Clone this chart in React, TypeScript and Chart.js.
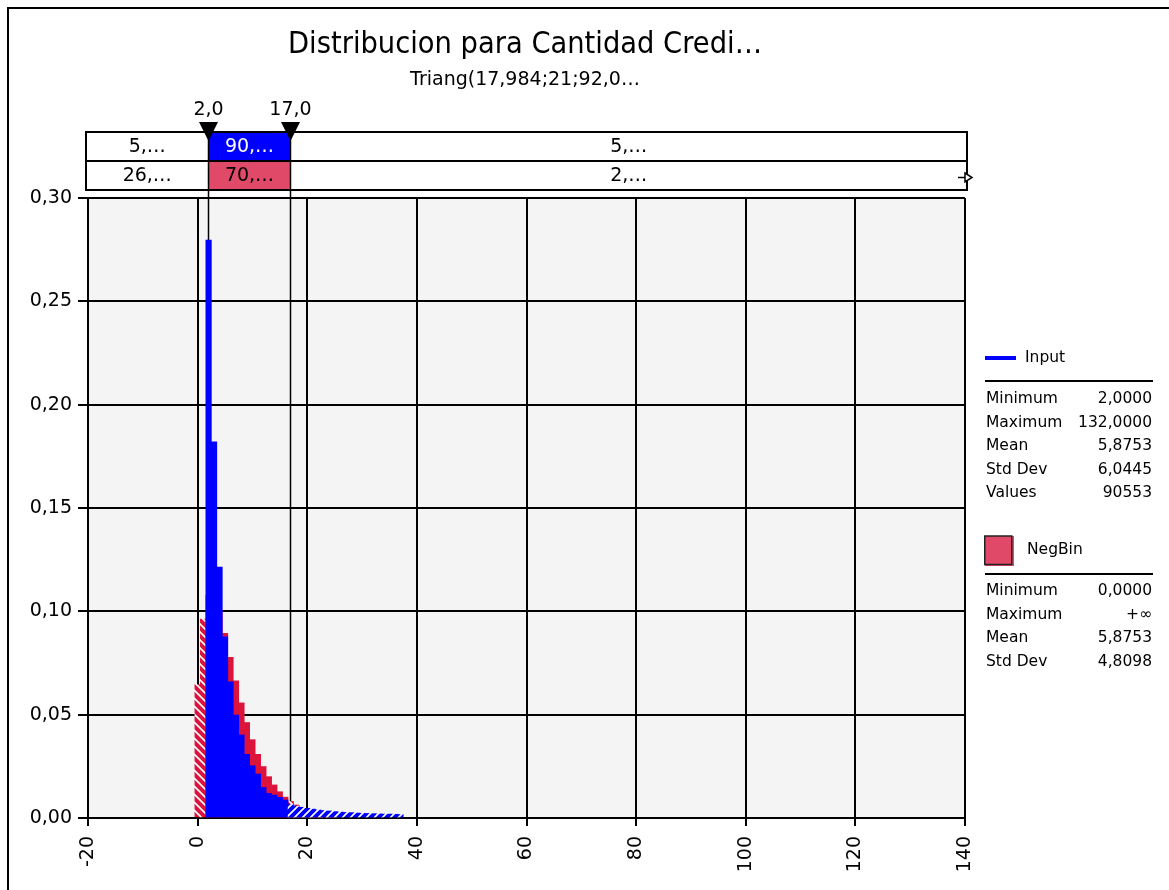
import React, { useEffect, useRef } from "react";
import { Chart, registerables } from "chart.js";

Chart.register(...registerables);

// ---- text ----
const TITLE = "Distribucion para Cantidad Credi…";
const SUBTITLE = "Triang(17,984;21;92,0…";

// ---- Input histogram (simulated values, probability per integer value) ----
const inputX = [
  2, 3, 4, 5, 6, 7, 8, 9, 10, 11, 12, 13, 14, 15, 16, 17, 18, 19, 20, 21, 22, 23, 24, 25, 26, 27,
  28, 29, 30, 31, 32, 33, 34, 35, 36, 37,
];
const inputProb = [
  0.2796, 0.182, 0.1214, 0.0877, 0.0659, 0.0498, 0.0402, 0.0308, 0.0253, 0.0213, 0.0148, 0.0119,
  0.0111, 0.01, 0.0087, 0.0065, 0.0058, 0.0052, 0.0047, 0.0043, 0.0039, 0.0036, 0.0034, 0.0031,
  0.0029, 0.0027, 0.0026, 0.0024, 0.0023, 0.0022, 0.0021, 0.002, 0.0019, 0.0019, 0.0018, 0.0017,
];

// ---- NegBin fitted distribution ----
const negBinX = [
  0, 1, 2, 3, 4, 5, 6, 7, 8, 9, 10, 11, 12, 13, 14, 15, 16, 17, 18, 19, 20, 21, 22, 23, 24, 25,
];
const negBinProb = [
  0.0645, 0.0963, 0.1077, 0.1071, 0.0999, 0.0894, 0.0778, 0.0664, 0.0557, 0.0462, 0.0379, 0.0308,
  0.0249, 0.02, 0.016, 0.0127, 0.0101, 0.008, 0.0063, 0.0049, 0.0038, 0.003, 0.0023, 0.0018,
  0.0014, 0.0011,
];

// ---- axes ----
const xTicks = [-20, 0, 20, 40, 60, 80, 100, 120, 140];
const yTicks = [0, 0.05, 0.1, 0.15, 0.2, 0.25, 0.3];

// ---- delimiters and band percentages ----
const delimiters = [2, 17];
const delimiterLabels = ["2,0", "17,0"];
const inputBand = ["5,…", "90,…", "5,…"];
const negBinBand = ["26,…", "70,…", "2,…"];

// ---- legend statistics ----
const inputStatNames = ["Minimum", "Maximum", "Mean", "Std Dev", "Values"];
const inputStatValues = ["2,0000", "132,0000", "5,8753", "6,0445", "90553"];
const negBinStatNames = ["Minimum", "Maximum", "Mean", "Std Dev"];
const negBinStatValues = ["0,0000", "+∞", "5,8753", "4,8098"];

const BLUE = "#0000ff";
const RED = "#dc143c";
const RED_SOFT = "#e04a68";
const FONT = '"DejaVu Sans", Verdana, sans-serif';

function makeHatch(ctx: CanvasRenderingContext2D, color: string, forward: boolean) {
  const tile = document.createElement("canvas");
  const s = 8;
  tile.width = s;
  tile.height = s;
  const g = tile.getContext("2d")!;
  g.fillStyle = color;
  g.fillRect(0, 0, s, s);
  g.strokeStyle = "#ffffff";
  g.lineWidth = 1.6;
  g.beginPath();
  if (forward) {
    g.moveTo(-1, s + 1);
    g.lineTo(s + 1, -1);
    g.moveTo(-1, 1);
    g.lineTo(1, -1);
    g.moveTo(s - 1, s + 1);
    g.lineTo(s + 1, s - 1);
  } else {
    g.moveTo(-1, -1);
    g.lineTo(s + 1, s + 1);
    g.moveTo(s - 1, -1);
    g.lineTo(s + 1, 1);
    g.moveTo(-1, s - 1);
    g.lineTo(1, s + 1);
  }
  g.stroke();
  return ctx.createPattern(tile, "repeat") as CanvasPattern;
}

const decorations = {
  id: "decorations",
  beforeDraw(chart: any) {
    const { ctx, chartArea } = chart;
    ctx.save();
    ctx.fillStyle = "#ffffff";
    ctx.fillRect(0, 0, chart.width, chart.height);
    ctx.fillStyle = "#f4f4f4";
    ctx.fillRect(chartArea.left, chartArea.top, chartArea.right - chartArea.left, chartArea.bottom - chartArea.top);
    ctx.restore();
  },
  beforeDatasetsDraw(chart: any) {
    const { ctx, chartArea, scales } = chart;
    ctx.save();
    ctx.strokeStyle = "#000";
    ctx.lineWidth = 1.5;
    delimiters.forEach((d) => {
      const px = Math.round(scales.x.getPixelForValue(d)) - 0.5;
      ctx.beginPath();
      ctx.moveTo(px, chartArea.top);
      ctx.lineTo(px, chartArea.bottom);
      ctx.stroke();
    });
    ctx.restore();
  },
  afterDraw(chart: any) {
    const { ctx, chartArea, scales } = chart;
    const W = chart.width;
    const H = chart.height;
    ctx.save();

    // outer frame
    ctx.strokeStyle = "#000";
    ctx.lineWidth = 2;
    ctx.beginPath();
    ctx.moveTo(8, H);
    ctx.lineTo(8, 8);
    ctx.lineTo(W, 8);
    ctx.stroke();

    // titles
    ctx.fillStyle = "#000";
    ctx.textAlign = "center";
    ctx.textBaseline = "middle";
    ctx.font = `30px ${FONT}`;
    ctx.fillText(TITLE, 525, 45, 474);
    ctx.font = `19px ${FONT}`;
    ctx.fillText(SUBTITLE, 525, 80, 232);

    // band table above the plot
    const left = chartArea.left - 2;
    const right = chartArea.right + 2;
    const rowTop = [132, 161];
    const rowH = 29;
    const m = delimiters.map((d) => Math.round(scales.x.getPixelForValue(d)) - 0.5);
    const cells = [left, m[0], m[1], right];

    ctx.fillStyle = "#fff";
    ctx.fillRect(left, rowTop[0], right - left, rowH * 2);
    ctx.fillStyle = BLUE;
    ctx.fillRect(m[0], rowTop[0], m[1] - m[0], rowH);
    ctx.fillStyle = RED_SOFT;
    ctx.fillRect(m[0], rowTop[1], m[1] - m[0], rowH);

    ctx.strokeStyle = "#000";
    ctx.lineWidth = 2;
    ctx.strokeRect(left, rowTop[0], right - left, rowH * 2);
    ctx.beginPath();
    ctx.moveTo(left, rowTop[1]);
    ctx.lineTo(right, rowTop[1]);
    ctx.stroke();

    // delimiter lines through the table
    ctx.lineWidth = 1.5;
    m.forEach((px) => {
      ctx.beginPath();
      ctx.moveTo(px, rowTop[0]);
      ctx.lineTo(px, chartArea.top);
      ctx.stroke();
    });

    ctx.font = `19px ${FONT}`;
    ctx.textAlign = "center";
    ctx.textBaseline = "middle";
    [inputBand, negBinBand].forEach((row, r) => {
      row.forEach((txt, i) => {
        ctx.fillStyle = r === 0 && i === 1 ? "#fff" : "#000";
        ctx.fillText(txt, (cells[i] + cells[i + 1]) / 2, rowTop[r] + rowH / 2 + 1);
      });
    });

    // delimiter triangles and labels
    ctx.fillStyle = "#000";
    m.forEach((px, i) => {
      ctx.beginPath();
      ctx.moveTo(px - 9.5, 122);
      ctx.lineTo(px + 9.5, 122);
      ctx.lineTo(px, 141);
      ctx.closePath();
      ctx.fill();
      ctx.fillText(delimiterLabels[i], px, 110);
    });

    // small arrow on the right end of the table
    ctx.strokeStyle = "#000";
    ctx.lineWidth = 1.5;
    ctx.beginPath();
    ctx.moveTo(958, 177.5);
    ctx.lineTo(965, 177.5);
    ctx.stroke();
    ctx.beginPath();
    ctx.moveTo(965, 173);
    ctx.lineTo(972, 177.5);
    ctx.lineTo(965, 182);
    ctx.closePath();
    ctx.fillStyle = "#fff";
    ctx.fill();
    ctx.stroke();

    // legend
    const lx = 985;
    const rx = 1152;
    ctx.font = `15.5px ${FONT}`;
    ctx.textBaseline = "middle";
    ctx.fillStyle = BLUE;
    ctx.fillRect(lx, 356, 31, 4);
    ctx.fillStyle = "#000";
    ctx.textAlign = "left";
    ctx.fillText("Input", 1025, 358);
    ctx.lineWidth = 2;
    ctx.beginPath();
    ctx.moveTo(lx, 381);
    ctx.lineTo(rx + 1, 381);
    ctx.stroke();
    inputStatNames.forEach((n, i) => {
      const y = 399 + i * 23.5;
      ctx.textAlign = "left";
      ctx.fillText(n, 986, y);
      ctx.textAlign = "right";
      ctx.fillText(inputStatValues[i], rx, y);
    });

    ctx.fillStyle = RED_SOFT;
    ctx.fillRect(lx, 536, 29, 30);
    ctx.strokeStyle = "#222";
    ctx.lineWidth = 1.5;
    ctx.strokeRect(lx - 0.25, 536, 27, 28.5);
    ctx.fillStyle = "#000";
    ctx.textAlign = "left";
    ctx.fillText("NegBin", 1027, 550);
    ctx.strokeStyle = "#000";
    ctx.lineWidth = 2;
    ctx.beginPath();
    ctx.moveTo(lx, 574);
    ctx.lineTo(rx + 1, 574);
    ctx.stroke();
    negBinStatNames.forEach((n, i) => {
      const y = 591 + i * 23.7;
      ctx.textAlign = "left";
      ctx.fillText(n, 986, y);
      ctx.textAlign = "right";
      ctx.fillText(negBinStatValues[i], rx, y);
    });

    ctx.restore();
  },
};

export default function App() {
  const canvasRef = useRef<HTMLCanvasElement | null>(null);

  useEffect(() => {
    const canvas = canvasRef.current;
    if (!canvas) return;
    const ctx = canvas.getContext("2d")!;
    const blueHatch = makeHatch(ctx, BLUE, true);
    const redHatch = makeHatch(ctx, RED, false);
    const [lo, hi] = delimiters;

    const chart = new Chart(ctx, {
      type: "bar",
      data: {
        datasets: [
          {
            label: "Input",
            data: inputX.map((x, i) => ({ x, y: inputProb[i] })),
            backgroundColor: (c: any) => {
              const x = c.raw?.x;
              return x !== undefined && (x < lo || x >= hi) ? blueHatch : BLUE;
            },
            borderWidth: 0,
            barPercentage: 1,
            categoryPercentage: 1,
            grouped: false,
            order: 0,
          } as any,
          {
            label: "NegBin",
            data: negBinX.map((x, i) => ({ x, y: negBinProb[i] })),
            backgroundColor: (c: any) => {
              const x = c.raw?.x;
              return x !== undefined && (x < lo || x >= hi) ? redHatch : RED;
            },
            borderWidth: 0,
            barPercentage: 1,
            categoryPercentage: 1,
            grouped: false,
            order: 1,
          } as any,
        ],
      },
      options: {
        responsive: false,
        animation: false,
        devicePixelRatio: 1,
        layout: { padding: { left: 0, top: 198, right: 204, bottom: 0 } },
        plugins: {
          legend: { display: false },
          title: { display: false },
          tooltip: { enabled: false },
        },
        scales: {
          x: {
            type: "linear",
            min: -20,
            max: 140,
            offset: false,
            z: 1,
            afterBuildTicks: (s: any) => {
              s.ticks = xTicks.map((v) => ({ value: v }));
            },
            afterFit: (s: any) => {
              s.height = 72;
            },
            grid: { color: "#000", lineWidth: 2, offset: false, drawTicks: true, tickLength: 8, tickColor: "#000" },
            border: { display: true, color: "#000", width: 2 },
            ticks: {
              color: "#000",
              font: { family: FONT, size: 19 },
              minRotation: 90,
              maxRotation: 90,
              padding: 10,
              autoSkip: false,
              callback: (v: any) => String(v),
            },
          },
          y: {
            type: "linear",
            min: 0,
            max: 0.3,
            z: 1,
            afterBuildTicks: (s: any) => {
              s.ticks = yTicks.map((v) => ({ value: v }));
            },
            afterFit: (s: any) => {
              s.width = 88;
            },
            grid: { color: "#000", lineWidth: 2, drawTicks: true, tickLength: 10, tickColor: "#000" },
            border: { display: true, color: "#000", width: 2 },
            ticks: {
              color: "#000",
              font: { family: FONT, size: 19 },
              padding: 6,
              autoSkip: false,
              callback: (v: any) => Number(v).toFixed(2).replace(".", ","),
            },
          },
        },
      } as any,
      plugins: [decorations],
    });

    return () => chart.destroy();
  }, []);

  return (
    <div style={{ position: "absolute", left: 0, top: 0, width: 1169, height: 890, background: "#fff" }}>
      <canvas ref={canvasRef} width={1169} height={890} style={{ display: "block" }} />
    </div>
  );
}
